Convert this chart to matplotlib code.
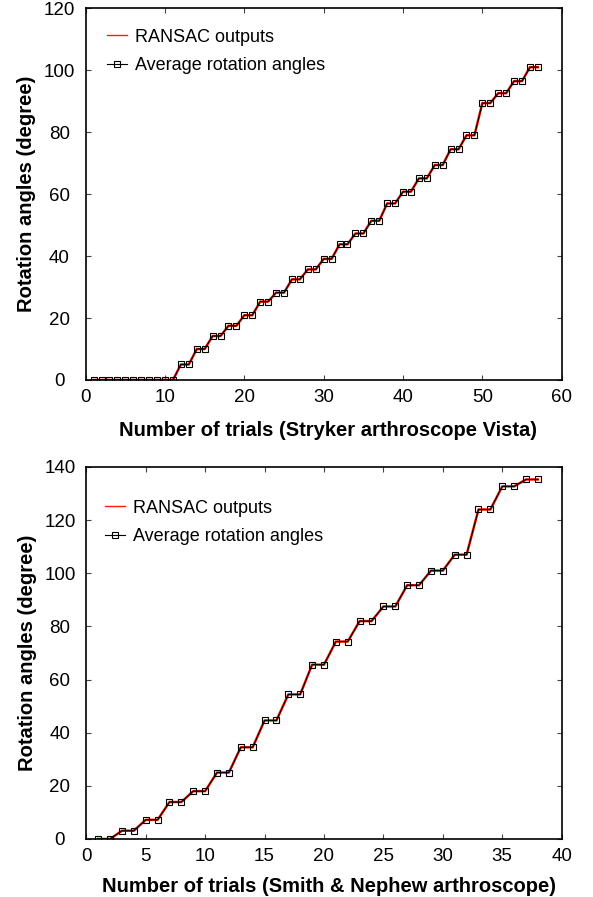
import numpy as np
import matplotlib
matplotlib.use("Agg")
import matplotlib.pyplot as plt

plt.rcParams['font.family'] = ['Liberation Sans', 'DejaVu Sans']
plt.rcParams['font.size'] = 13

# top chart: Stryker arthroscope Vista
x1 = list(range(1, 58))
lev1 = [5, 10, 14.2, 17.5, 20.9, 25.3, 28.2, 32.5, 35.7, 39.1, 43.8, 47.3,
        51.4, 57.0, 60.8, 65.1, 69.4, 74.5, 79.0, 89.4, 92.6, 96.5, 101.0]
y1 = [0] * 11 + [v for v in lev1 for _ in range(2)]

# bottom chart: Smith & Nephew arthroscope
x2 = list(range(1, 39))
lev2 = [3.1, 7.2, 13.9, 18.0, 25.0, 34.5, 44.6, 54.4, 65.6, 74.3, 82.0,
        87.5, 95.5, 101.0, 107.0, 124.0, 132.7, 135.3]
y2 = [0, 0] + [v for v in lev2 for _ in range(2)]

fig = plt.figure(figsize=(5.93, 8.97), dpi=100)
ax1 = fig.add_axes([0.1445, 0.5764, 0.9472 - 0.1445, 0.9907 - 0.5764])
ax2 = fig.add_axes([0.1455, 0.0647, 0.9472 - 0.1455, 0.4794 - 0.0647])


def draw(ax, x, y, xmax, ymax, xstep, ystep, xlabel, leg_anchor):
    ax.plot(x, y, color='#ff1a00', lw=1.8, label='RANSAC outputs', zorder=2)
    ax.plot(x, y, color='black', lw=0.8, marker='s', markersize=3.8,
            markerfacecolor='none', markeredgecolor='black', markeredgewidth=0.8,
            label='Average rotation angles', zorder=3)
    ax.set_xlim(0, xmax)
    ax.set_ylim(0, ymax)
    ax.set_xticks(np.arange(0, xmax + 1, xstep))
    ax.set_yticks(np.arange(0, ymax + 1, ystep))
    ax.tick_params(direction='in', length=3.5, width=0.8, top=True, right=True,
                   labelsize=13.5, color='#444444')
    ax.tick_params(axis='x', pad=6.5)
    ax.tick_params(axis='y', pad=19)
    for lbl in ax.get_yticklabels():
        lbl.set_ha('center')
    for s in ax.spines.values():
        s.set_linewidth(1.2)
    ax.set_xlabel(xlabel, fontweight='bold', fontsize=14.5)
    ax.set_ylabel('Rotation angles (degree)', fontweight='bold', fontsize=14.5)
    leg = ax.legend(loc='upper left', bbox_to_anchor=leg_anchor,
                    bbox_transform=fig.transFigure, frameon=False, fontsize=13,
                    handlelength=1.1, handletextpad=0.45, labelspacing=0.62,
                    borderpad=0, borderaxespad=0)
    leg.get_lines()[0].set_linewidth(1.0)


draw(ax1, x1, y1, 60, 120, 10, 20,
     'Number of trials (Stryker arthroscope Vista)', (0.180, 0.968))
draw(ax2, x2, y2, 40, 140, 5, 20,
     'Number of trials (Smith & Nephew arthroscope)', (0.177, 0.443))

ax1.xaxis.set_label_coords(0.51, -0.11)
ax2.xaxis.set_label_coords(0.51, -0.102)
ax1.yaxis.set_label_coords(-0.104, 0.5)
ax2.yaxis.set_label_coords(-0.104, 0.5)

fig.savefig('out.png', dpi=100)
